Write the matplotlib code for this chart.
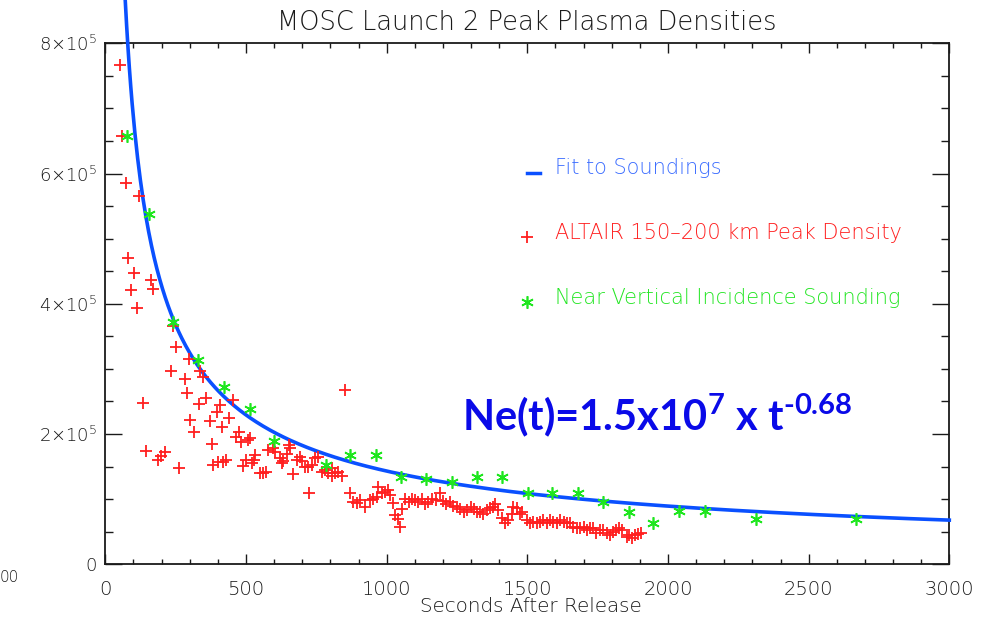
import matplotlib
matplotlib.use("Agg")
import matplotlib.pyplot as plt
import numpy as np
from matplotlib.ticker import MultipleLocator, FixedLocator, FixedFormatter

# ---------------- data ----------------
altair_t = [52.6, 58, 74, 121, 82, 101, 162, 91, 171, 111, 240, 251, 232, 299, 337, 348, 284, 291,
            134, 146, 188, 198, 213, 263, 301, 316, 333, 358, 372, 380, 383, 397, 408, 415, 429,
            440, 454, 465, 476, 483, 490, 501, 508, 401, 418, 514, 520, 527, 532, 550, 562, 571,
            579, 597, 603, 621, 627, 633, 645, 654, 656, 668, 680, 692, 698, 710, 722, 734, 724,
            745, 757, 769, 781, 793, 805, 807, 816, 828, 840, 852, 870, 882, 894, 905, 923, 940,
            953, 965, 970, 982, 994, 1006, 1012, 1024, 1030, 1047, 1040, 1055, 1065, 1080, 1090,
            1100, 1112, 1125, 1135, 1148, 1160, 1175, 1190, 1200, 1212, 1225, 1237, 1250, 1262,
            1275, 1287, 1300, 1312, 1322, 1332, 1344, 1356, 1368, 1379, 1385, 1397, 1409, 1421,
            1432, 1445, 1450, 1462, 1474, 1480, 1498, 1510, 1521, 1533, 1545, 1557, 1569, 1581,
            1593, 1605, 1617, 1629, 1641, 1652, 1664, 1676, 1688, 1700, 1712, 1724, 1735, 1745,
            1757, 1770, 1782, 1795, 1805, 1815, 1826, 1836, 1853, 1862, 1872, 1882, 1895, 1905]
altair_ne = [767e3, 657e3, 586e3, 565e3, 470e3, 447e3, 437e3, 421e3, 422e3, 394e3, 366e3, 333e3,
             297e3, 315e3, 297e3, 288e3, 284e3, 263e3, 247e3, 174e3, 160e3, 167e3, 173e3, 148e3,
             221e3, 203e3, 246e3, 255e3, 220e3, 185e3, 153e3, 234e3, 245e3, 211e3, 160e3, 225e3,
             252e3, 195e3, 203e3, 188e3, 151e3, 160e3, 191e3, 157e3, 157e3, 194e3, 155e3, 160e3,
             168e3, 140e3, 140e3, 141e3, 175e3, 178e3, 173e3, 163e3, 155e3, 158e3, 170e3, 183e3,
             178e3, 139e3, 160e3, 165e3, 158e3, 149e3, 150e3, 152e3, 109e3, 163e3, 165e3, 142e3,
             145e3, 140e3, 135e3, 148e3, 140e3, 142e3, 135e3, 268e3, 109e3, 96e3, 94e3, 99e3,
             88e3, 99e3, 101e3, 104e3, 119e3, 109e3, 111e3, 114e3, 106e3, 94e3, 76e3, 58e3, 70e3,
             85e3, 100e3, 95e3, 100e3, 98e3, 95e3, 100e3, 92e3, 95e3, 100e3, 98e3, 109e3, 97e3,
             92e3, 95e3, 90e3, 88e3, 85e3, 80e3, 83e3, 88e3, 85e3, 80e3, 81e3, 77e3, 83e3, 86e3,
             88e3, 92e3, 83e3, 71e3, 63e3, 68e3, 77e3, 88e3, 86e3, 78e3, 81e3, 68e3, 63e3, 65e3,
             63e3, 65e3, 68e3, 63e3, 68e3, 65e3, 63e3, 68e3, 65e3, 63e3, 63e3, 58e3, 55e3, 55e3,
             58e3, 52e3, 55e3, 55e3, 48e3, 52e3, 52e3, 48e3, 45e3, 50e3, 52e3, 55e3, 52e3, 42e3,
             45e3, 40e3, 45e3, 47e3, 48e3]

sound_t = [78, 156, 240, 328, 422, 514, 600, 784, 870, 961, 1051, 1139, 1231, 1322, 1411, 1501,
           1589, 1680, 1770, 1860, 1948, 2039, 2132, 2312, 2668]
sound_ne = [658e3, 538e3, 372e3, 314e3, 273e3, 238e3, 189e3, 152e3, 168e3, 168e3, 134e3, 131e3,
            126e3, 134e3, 134e3, 110e3, 110e3, 109e3, 96e3, 81e3, 64e3, 82e3, 82e3, 70e3, 70e3]

fit_amp = 1.57e7
fit_exp = -0.68
fit_t_start, fit_t_end = 66, 3000

x_ticks = [0, 500, 1000, 1500, 2000, 2500, 3000]
x_labels = ['0', '500', '1000', '1500', '2000', '2500', '3000']
y_ticks = [0, 2e5, 4e5, 6e5, 8e5]
y_labels = ['0', r'2×10$^{5}$', r'4×10$^{5}$', r'6×10$^{5}$', r'8×10$^{5}$']

title = 'MOSC Launch 2 Peak Plasma Densities'
xlabel = 'Seconds After Release'
legend_labels = ['Fit to Soundings', 'ALTAIR 150–200 km Peak Density', 'Near Vertical Incidence Sounding']
formula = 'Ne(t)=1.5x10$^{7}$ x t$^{\u20100.68}$'

# ---------------- style ----------------
W, H = 989, 619
plt.rcParams['font.family'] = ['DejaVu Sans']
plt.rcParams['mathtext.default'] = 'regular'

BLUE_LINE = '#0a50ff'
RED = '#ff1f1f'
GREEN = '#1ee61e'
TXT = '#1a1a1a'
LIGHT = 'light'

fig = plt.figure(figsize=(W / 100, H / 100), dpi=100)
L, R, T, B = 105.3, 949.3, 43.3, 564.3
ax = fig.add_axes([L / W, 1 - B / H, (R - L) / W, (B - T) / H])

def fx(px):
    return px / W

def fy(py):
    return 1 - py / H

# fit curve
tt = np.linspace(fit_t_start, fit_t_end, 600)
ax.plot(tt, fit_amp * tt ** fit_exp, color=BLUE_LINE, lw=2.6, clip_on=False, zorder=3)

ax.plot(altair_t, altair_ne, ls='none', marker='+', ms=9, mew=1.3, color=RED, zorder=4)
ax.plot(sound_t, sound_ne, ls='none', marker=(6, 2, 0), ms=9, mew=1.2, color=GREEN, zorder=5)

ax.set_xlim(0, 3000)
ax.set_ylim(0, 8e5)
ax.xaxis.set_major_locator(FixedLocator(x_ticks))
ax.xaxis.set_major_formatter(FixedFormatter(x_labels))
ax.xaxis.set_minor_locator(MultipleLocator(100))
ax.yaxis.set_major_locator(FixedLocator(y_ticks))
ax.yaxis.set_major_formatter(FixedFormatter(y_labels))
ax.yaxis.set_minor_locator(MultipleLocator(5e4))

ax.tick_params(axis='both', which='both', direction='in', top=True, right=True,
               colors=TXT, width=1.0, labelcolor=TXT)
ax.tick_params(axis='x', which='major', length=7.2, pad=11, labelsize=14)
ax.tick_params(axis='x', which='minor', length=3.3)
ax.tick_params(axis='y', which='major', length=12, pad=6, labelsize=13)
ax.tick_params(axis='y', which='minor', length=6)
for lab in ax.get_xticklabels() + ax.get_yticklabels():
    lab.set_fontweight(LIGHT)
for s in ax.spines.values():
    s.set_linewidth(1.3)
    s.set_color(TXT)

fig.text(fx(527), fy(22), title, ha='center', va='center', fontsize=18.5, color=TXT,
         fontweight=LIGHT)
fig.text(fx(531), fy(607), xlabel, ha='center', va='center', fontsize=14.3, color=TXT,
         fontweight=LIGHT)
fig.text(fx(0), fy(578), '00', ha='left', va='center', fontsize=11, color=TXT, fontweight=LIGHT)

# legend (manual)
leg_y = [168, 233, 298]
leg_col = ['#3a6cff', RED, '#22e622']
fig.lines.append(plt.Line2D([fx(527), fx(540)], [fy(173), fy(173)], color=BLUE_LINE, lw=2.5,
                            transform=fig.transFigure))
fig.lines.append(plt.Line2D([fx(527)], [fy(237)], marker='+', ms=9, mew=1.3, color=RED,
                            ls='none', transform=fig.transFigure))
fig.lines.append(plt.Line2D([fx(527)], [fy(302)], marker=(6, 2, 0), ms=9, mew=1.2, color=GREEN,
                            ls='none', transform=fig.transFigure))
for lab, yy, c in zip(legend_labels, leg_y, leg_col):
    fig.text(fx(555), fy(yy), lab, ha='left', va='center', fontsize=15, color=c, fontweight=LIGHT)

fig.text(fx(462), fy(430), formula, ha='left', va='baseline', fontsize=30,
         fontweight='bold', family='Lato', color='#0a0ae8')

fig.savefig('out.png', dpi=100)
